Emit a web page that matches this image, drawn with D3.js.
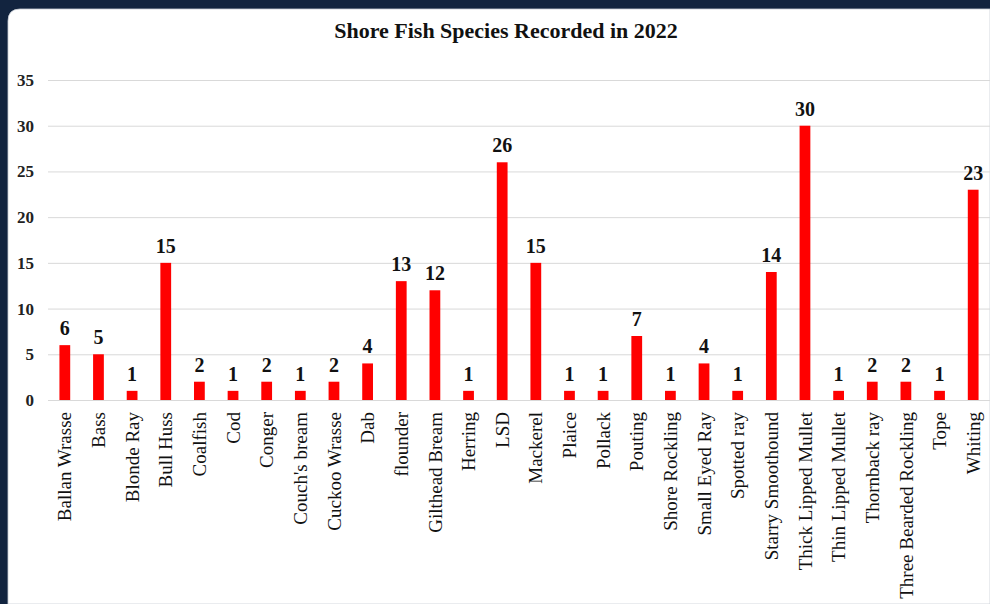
<!DOCTYPE html>
<html>
<head>
<meta charset="utf-8">
<script src="https://cdn.jsdelivr.net/npm/d3@7"></script>
<style>
  html, body { margin: 0; padding: 0; background: #12243f; }
  svg { display: block; }
</style>
</head>
<body>
<div id="chart"></div>
<script>
const species = ["Ballan Wrasse", "Bass", "Blonde Ray", "Bull Huss", "Coalfish", "Cod", "Conger",
    "Couch's bream", "Cuckoo Wrasse", "Dab", "flounder", "Gilthead Bream", "Herring", "LSD",
    "Mackerel", "Plaice", "Pollack", "Pouting", "Shore Rockling", "Small Eyed Ray", "Spotted ray",
    "Starry Smoothound", "Thick Lipped Mullet", "Thin Lipped Mullet", "Thornback ray",
    "Three Bearded Rockling", "Tope", "Whiting"];

const counts = [6, 5, 1, 15, 2, 1, 2, 1, 2, 4, 13, 12, 1, 26, 15, 1, 1, 7, 1, 4, 1, 14, 30, 1, 2, 2, 1, 23];

const yTicks = [0, 5, 10, 15, 20, 25, 30, 35];

const chartTitle = "Shore Fish Species Recorded in 2022";

const data = species.map((s, i) => ({ name: s, value: counts[i] }));

const W = 990, H = 604;
const serif = "'Liberation Serif', 'DejaVu Serif', serif";

const svg = d3.select("#chart").append("svg")
    .attr("width", W)
    .attr("height", H);

// navy frame + white panel
svg.append("rect")
    .attr("width", W).attr("height", H)
    .attr("fill", "#12243f");

svg.append("path")
    .attr("d", `M8,${H} L8,21 Q8,9 20,9 L${W},9 L${W},${H} Z`)
    .attr("fill", "#ffffff")
    .attr("stroke", "#c9ced6")
    .attr("stroke-width", 0.8);

svg.append("text")
    .attr("x", 506)
    .attr("y", 38)
    .attr("text-anchor", "middle")
    .style("font-family", serif)
    .style("font-weight", "bold")
    .style("font-size", "22px")
    .style("fill", "#111")
    .text(chartTitle);

let x = d3.scaleBand()
    .domain(species)
    .range([48, 990])
    .paddingInner(0.68)
    .paddingOuter(0.34);

let y = d3.scaleLinear()
    .domain([0, 35])
    .range([400, 80]);

// gridlines
svg.append("g")
    .selectAll("line")
    .data(yTicks)
    .join("line")
    .attr("x1", 48)
    .attr("x2", 990)
    .attr("y1", d => y(d) + 0.5)
    .attr("y2", d => y(d) + 0.5)
    .attr("stroke", "#d9d9d9")
    .attr("stroke-width", 1);

let yAxis = svg.append("g")
    .attr("transform", "translate(34,0)")
    .call(d3.axisLeft(y).tickValues(yTicks).tickSize(0).tickPadding(0));
yAxis.select(".domain").remove();
yAxis.selectAll("text")
    .style("font-family", serif)
    .style("font-weight", "bold")
    .style("font-size", "17px")
    .style("fill", "#222");

svg.append("g")
    .selectAll("rect")
    .data(data)
    .join("rect")
    .attr("x", d => x(d.name))
    .attr("y", d => y(d.value))
    .attr("width", x.bandwidth())
    .attr("height", d => y(0) - y(d.value))
    .style("fill", "#ff0000");

svg.append("g")
    .selectAll("text")
    .data(data)
    .join("text")
    .attr("x", d => x(d.name) + x.bandwidth() / 2)
    .attr("y", d => y(d.value) - 10)
    .attr("text-anchor", "middle")
    .style("font-family", serif)
    .style("font-weight", "bold")
    .style("font-size", "20px")
    .style("fill", "#111")
    .text(d => d.value);

let xAxis = svg.append("g")
    .attr("transform", "translate(0,400)")
    .call(d3.axisBottom(x).tickSize(0).tickPadding(0));
xAxis.select(".domain").remove();
xAxis.selectAll("text")
    .attr("transform", "rotate(-90)")
    .attr("x", -12)
    .attr("y", 0)
    .attr("dy", "0.35em")
    .attr("text-anchor", "end")
    .style("font-family", serif)
    .style("font-size", "19px")
    .style("fill", "#111");
</script>
</body>
</html>
